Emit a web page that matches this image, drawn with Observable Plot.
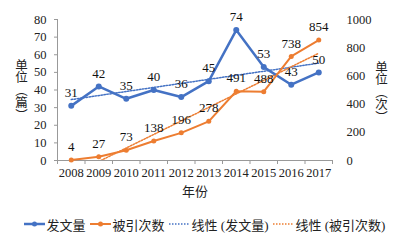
<!DOCTYPE html>
<html>
<head>
<meta charset="utf-8">
<script src="https://cdn.jsdelivr.net/npm/d3@7"></script>
<script src="https://cdn.jsdelivr.net/npm/@observablehq/plot@0.6"></script>
<style>
  body { margin: 0; background: #fff; }
  #wrap { width: 409px; height: 240px; position: relative; font-family: "Liberation Serif", "Noto Sans CJK SC", serif; }
  #legend { display: flex; justify-content: center; align-items: center; gap: 4px; height: 38px; font-size: 13px; color: #222; font-family: "Liberation Serif", "Noto Sans CJK SC", serif; }
  .item { display: flex; align-items: center; gap: 2px; white-space: nowrap; }
  .item svg { display: block; }
</style>
</head>
<body>
<div id="wrap"></div>
<script>
const years = [2008, 2009, 2010, 2011, 2012, 2013, 2014, 2015, 2016, 2017];
const papers = [31, 42, 35, 40, 36, 45, 74, 53, 43, 50];
const citations = [4, 27, 73, 138, 196, 278, 491, 488, 738, 854];
const leftTicks = [0, 10, 20, 30, 40, 50, 60, 70, 80];
const rightTicks = [0, 200, 400, 600, 800, 1000];
const seriesNames = ["发文量", "被引次数", "线性 (发文量)", "线性 (被引次数)"];
const xTitle = "年份";
const leftTitle = "单位（篇）";
const rightTitle = "单位（次）";

const blue = "#4472C4";
const orange = "#ED7D31";
const serif = '"Liberation Serif", "Noto Sans CJK SC", serif';
const ratio = rightTicks[rightTicks.length - 1] / leftTicks[leftTicks.length - 1];

const data = years.map((y, i) => ({year: y, papers: papers[i], cites: citations[i]}));
const bounds = years.map(y => y - 0.5).concat([years[years.length - 1] + 0.5]);

const plot = Plot.plot({
  width: 409,
  height: 205,
  marginLeft: 57,
  marginRight: 77,
  marginTop: 19,
  marginBottom: 45,
  style: `font-family: ${serif}; font-size: 12.5px; color: #222; background: transparent;`,
  x: {domain: [bounds[0], bounds[bounds.length - 1]]},
  y: {domain: [leftTicks[0], leftTicks[leftTicks.length - 1]]},
  marks: [
    Plot.axisY(leftTicks, {tickSize: 3, tickPadding: 8, label: null, stroke: "#999", fontSize: 12.5, fontFamily: serif}),
    Plot.axisY(rightTicks.map(v => v / ratio), {anchor: "right", tickSize: 0, tickPadding: 14, label: null, tickFormat: d => String(Math.round(d * ratio)), fontSize: 12.5, fontFamily: serif}),
    Plot.axisX(years, {tickSize: 0, tickPadding: 8, tickFormat: d => String(d), label: null, fontSize: 12.5, fontFamily: serif}),
    Plot.axisX(bounds, {tickSize: 4, tickFormat: () => "", label: null, stroke: "#999"}),
    Plot.ruleX([bounds[0]], {stroke: "#999"}),
    Plot.ruleY([leftTicks[0]], {stroke: "#999"}),
    Plot.text([xTitle], {frameAnchor: "bottom", dy: 35, fontSize: 13, fill: "#222", fontFamily: serif}),
    Plot.text([leftTitle], {frameAnchor: "left", dx: -36, dy: -4, fontSize: 12.5, fill: "#222"}),
    Plot.text([rightTitle], {frameAnchor: "right", dx: 49, dy: -2, fontSize: 12.5, fill: "#222"}),
    Plot.linearRegressionY(data, {x: "year", y: "papers", stroke: blue, strokeWidth: 1.5, strokeDasharray: "1.5,1.5", ci: 0}),
    Plot.linearRegressionY(data, {x: "year", y: d => d.cites / ratio, stroke: orange, strokeWidth: 1.5, strokeDasharray: "1.5,1.5", ci: 0, clip: true}),
    Plot.line(data, {x: "year", y: "papers", stroke: blue, strokeWidth: 2.5}),
    Plot.dot(data, {x: "year", y: "papers", fill: blue, r: 3}),
    Plot.line(data, {x: "year", y: d => d.cites / ratio, stroke: orange, strokeWidth: 2}),
    Plot.dot(data, {x: "year", y: d => d.cites / ratio, fill: orange, r: 2.5}),
    Plot.text(data, {x: "year", y: "papers", text: d => String(d.papers), dy: -13, fontSize: 13, fill: "#111", fontFamily: serif}),
    Plot.text(data, {x: "year", y: d => d.cites / ratio, text: d => String(d.cites), dy: -13, fontSize: 13, fill: "#111", fontFamily: serif})
  ]
});

d3.select(plot).selectAll("text").each(function() {
  const t = this.textContent;
  if (t === leftTitle || t === rightTitle) {
    d3.select(this).attr("writing-mode", "vertical-rl").attr("dy", null).attr("text-anchor", "middle")
      .attr("font-family", '"Noto Sans CJK SC", sans-serif');
  }
});

const wrap = document.getElementById("wrap");
wrap.appendChild(plot);

const legend = document.createElement("div");
legend.id = "legend";
const styles = [
  {color: blue, dash: null, dot: true, w: 2.5},
  {color: orange, dash: null, dot: true, w: 2},
  {color: blue, dash: "1.5,1.5", dot: false, w: 1.5},
  {color: orange, dash: "1.5,1.5", dot: false, w: 1.5}
];
seriesNames.forEach((name, i) => {
  const s = styles[i];
  const item = document.createElement("div");
  item.className = "item";
  const sw = d3.create("svg").attr("width", 21).attr("height", 10);
  sw.append("line").attr("x1", 0).attr("x2", 21).attr("y1", 5).attr("y2", 5)
    .attr("stroke", s.color).attr("stroke-width", s.w).attr("stroke-dasharray", s.dash);
  if (s.dot) sw.append("circle").attr("cx", 10.5).attr("cy", 5).attr("r", 2.5).attr("fill", s.color);
  item.appendChild(sw.node());
  const lab = document.createElement("span");
  lab.textContent = name;
  item.appendChild(lab);
  legend.appendChild(item);
});
wrap.appendChild(legend);
</script>
</body>
</html>
